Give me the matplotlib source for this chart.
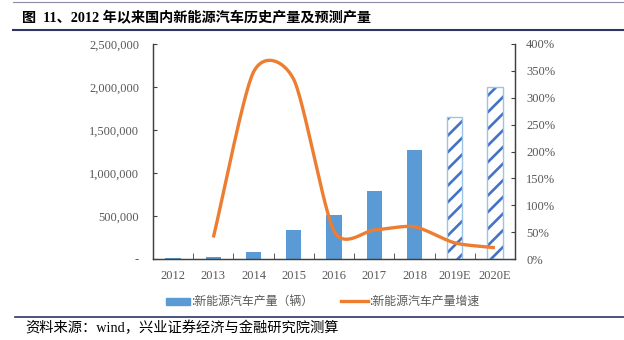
import numpy as np
import matplotlib
matplotlib.use("Agg")
import matplotlib.pyplot as plt
from matplotlib.ticker import FuncFormatter, MultipleLocator

plt.rcParams['font.family'] = ['Liberation Serif', 'Noto Sans CJK SC', 'DejaVu Sans']
plt.rcParams['hatch.linewidth'] = 1.9

years = ['2012', '2013', '2014', '2015', '2016', '2017', '2018', '2019E', '2020E']
output = [12552, 17533, 78499, 340471, 517000, 794000, 1270000, 1650000, 2000000]
growth = [None, 0.40, 3.48, 3.34, 0.52, 0.54, 0.60, 0.30, 0.21]
forecast = [False] * 7 + [True] * 2

BLUE = '#5B9BD5'
STRIPE = '#4472C4'
ORANGE = '#ED7D31'
GRAY = '#595959'
NAVY = '#2E3565'


def smooth(xs, ys, steps=30, k=0.75):
    # cardinal spline through the points, like the office "smoothed line"
    xs = np.asarray(xs, float)
    ys = np.asarray(ys, float)
    n = len(xs)
    mx = np.gradient(xs) * k
    my = np.empty(n)
    my[1:-1] = (ys[2:] - ys[:-2]) / 2 * k
    my[0] = (ys[1] - ys[0]) * k
    my[-1] = (ys[-1] - ys[-2]) * k
    t = np.linspace(0, 1, steps)
    h00 = 2 * t ** 3 - 3 * t ** 2 + 1
    h10 = t ** 3 - 2 * t ** 2 + t
    h01 = -2 * t ** 3 + 3 * t ** 2
    h11 = t ** 3 - t ** 2
    out_x, out_y = [], []
    for i in range(n - 1):
        out_x.extend(h00 * xs[i] + h10 * mx[i] + h01 * xs[i + 1] + h11 * mx[i + 1])
        out_y.extend(h00 * ys[i] + h10 * my[i] + h01 * ys[i + 1] + h11 * my[i + 1])
    return np.array(out_x), np.array(out_y)


fig = plt.figure(figsize=(6.24, 3.40), dpi=100)
ax = fig.add_axes([153 / 624, 1 - 259 / 340, 362 / 624, 215 / 340])
ax2 = ax.twinx()

x = np.arange(len(years))
hist = [i for i in x if not forecast[i]]
pred = [i for i in x if forecast[i]]
ax.bar(hist, [output[i] for i in hist], width=0.38, color=BLUE, zorder=2)
ax.bar(pred, [output[i] for i in pred], width=0.38, color='white',
       edgecolor=STRIPE, hatch='//', linewidth=0, zorder=2)
ax.bar(pred, [output[i] for i in pred], width=0.38, fill=False,
       edgecolor='#9DC3E6', linewidth=1.0, zorder=3)

gx = [i for i in x if growth[i] is not None]
sx, sy = smooth(gx, [growth[i] for i in gx])
ax2.plot(sx, sy, color=ORANGE, lw=2.4, solid_capstyle='butt', zorder=4)

ax.set_xlim(-0.5, len(years) - 0.5)
ax.set_ylim(0, 2500000)
ax2.set_ylim(0, 4.0)

ax.set_xticks(x)
ax.set_xticklabels(years)
ax.set_xticks(np.arange(-0.5, len(years), 1), minor=True)
ax.tick_params(axis='x', which='major', length=0, pad=8, labelsize=9, labelcolor=GRAY)
ax.tick_params(axis='x', which='minor', length=4, direction='in', color='#404040')
ax.yaxis.set_major_locator(MultipleLocator(500000))
ax.yaxis.set_major_formatter(FuncFormatter(lambda v, p: '-' if v == 0 else f'{v:,.0f}'))
ax.tick_params(axis='y', length=3, direction='in', pad=10, labelsize=9, labelcolor=GRAY, color='#404040')
ax2.yaxis.set_major_locator(MultipleLocator(0.5))
ax2.yaxis.set_major_formatter(FuncFormatter(lambda v, p: f'{v * 100:.0f}%'))
ax2.tick_params(axis='y', length=3, direction='in', pad=8, labelsize=9, labelcolor=GRAY, color='#404040')

for a in (ax, ax2):
    a.spines['top'].set_visible(False)
    for s in ('left', 'right', 'bottom'):
        a.spines[s].set_color('#404040')
        a.spines[s].set_linewidth(0.9)

# legend drawn by hand under the plot
fig.patches.append(plt.Rectangle((166 / 624, 1 - 305 / 340), 24 / 624, 7 / 340,
                                 transform=fig.transFigure, color=BLUE))
fig.text(191 / 624, 1 - 301 / 340, ':新能源汽车产量（辆）', fontsize=8.6, color=GRAY,
         va='center', family=['Noto Sans CJK SC'])
fig.lines.append(plt.Line2D([341 / 624, 368 / 624], [1 - 301 / 340] * 2,
                            transform=fig.transFigure, color=ORANGE, lw=2.4))
fig.text(369 / 624, 1 - 301 / 340, ':新能源汽车产量增速', fontsize=8.6, color=GRAY,
         va='center', family=['Noto Sans CJK SC'])

# title, rules and source line
fig.lines.append(plt.Line2D([13 / 624, 1], [1 - 1.5 / 340] * 2, transform=fig.transFigure,
                            color='#8C8CA8', lw=0.8))
fig.text(22 / 624, 1 - 17 / 340, '图  11、2012 年以来国内新能源汽车历史产量及预测产量',
         fontsize=10.2, fontweight='bold', va='center', color='black')
fig.lines.append(plt.Line2D([13 / 624, 1], [1 - 29.5 / 340] * 2, transform=fig.transFigure,
                            color=NAVY, lw=1.5))
fig.lines.append(plt.Line2D([15 / 624, 1], [1 - 317 / 340] * 2, transform=fig.transFigure,
                            color=NAVY, lw=1.2))
fig.text(25 / 624, 1 - 328 / 340, '资料来源：wind，兴业证券经济与金融研究院测算',
         fontsize=10.3, va='center', color='black')

fig.savefig('out.png', dpi=100)
